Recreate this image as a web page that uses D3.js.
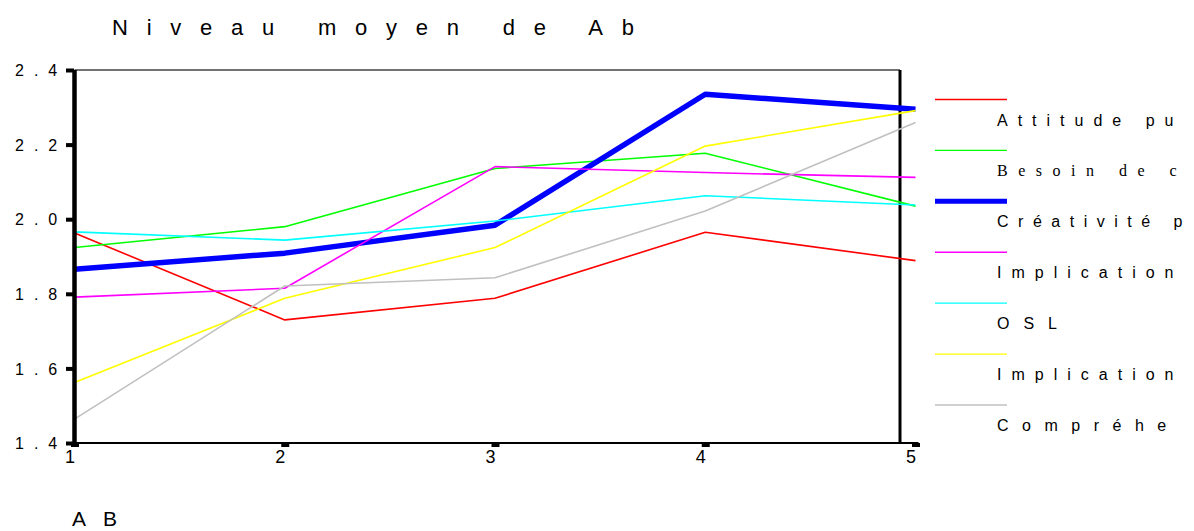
<!DOCTYPE html>
<html><head><meta charset="utf-8">
<script src="https://cdn.jsdelivr.net/npm/d3@7"></script>
<style>body{margin:0;background:#fff;} svg{display:block;}</style>
</head><body><svg id="c" width="1194" height="531"></svg>
<script>
const categories = [1, 2, 3, 4, 5];
const yTicks = [1.4, 1.6, 1.8, 2.0, 2.2, 2.4];
const seriesNames = ["Attitude pu", "Besoin de c", "Créativité p", "Implication", "OSL", "Implication", "Compréhe"];
const seriesColors = ["#ff0000", "#00ff00", "#0000ff", "#ff00ff", "#00ffff", "#ffff00", "#c0c0c0"];
const attitude      = [1.963, 1.730, 1.788, 1.965, 1.889];
const besoin        = [1.924, 1.980, 2.136, 2.177, 2.035];
const creativite    = [1.866, 1.909, 1.984, 2.335, 2.295];
const implication1  = [1.791, 1.815, 2.141, 2.125, 2.112];
const osl           = [1.966, 1.944, 1.995, 2.063, 2.038];
const implication2  = [1.562, 1.788, 1.924, 2.196, 2.291];
const comprehension = [1.464, 1.821, 1.843, 2.022, 2.259];
const seriesValues = [attitude, besoin, creativite, implication1, osl, implication2, comprehension];
const title = "Niveau moyen de Ab";
const xTitle = "AB";

const svg = d3.select("#c");
const x = d3.scaleLinear().domain([1, 5]).range([74.5, 915.5]);
const y = d3.scaleLinear().domain([1.4, 2.4]).range([443, 70]);

// title
svg.append("text").attr("x", 112).attr("y", 35)
  .attr("textLength", 522).attr("lengthAdjust", "spacing")
  .style("font-family", "'Liberation Sans', Arial, sans-serif").style("font-size", "22px")
  .text(title);

// frame: top and right
svg.append("line").attr("x1", x(1)).attr("x2", 900).attr("y1", y(2.4)).attr("y2", y(2.4))
  .attr("stroke", "#444").attr("stroke-width", 1.5);
svg.append("line").attr("x1", 900).attr("x2", 900).attr("y1", y(2.4)).attr("y2", y(1.4))
  .attr("stroke", "#000").attr("stroke-width", 3);

// lines
const line = d3.line().x((d, i) => x(categories[i])).y(d => y(d));
seriesValues.forEach((vals, i) => {
  svg.append("path").datum(vals).attr("d", line)
    .attr("fill", "none").attr("stroke", seriesColors[i])
    .attr("stroke-width", i === 2 ? 5.5 : 1.6)
    .attr("stroke-linejoin", "round");
});

// y axis
const yAxis = svg.append("g").attr("transform", `translate(${x(1)},0)`)
  .call(d3.axisLeft(y).tickValues(yTicks).tickFormat(d3.format(".1f")).tickSize(0));
yAxis.select(".domain").remove();
yAxis.append("line").attr("x1", 0).attr("x2", 0).attr("y1", y(2.4)).attr("y2", y(1.4) + 4)
  .attr("stroke", "#000").attr("stroke-width", 4.5);
yAxis.selectAll(".tick").append("rect").attr("x", -8.5).attr("y", -2).attr("width", 8).attr("height", 4).attr("fill", "#000");
yAxis.selectAll(".tick text").attr("x", 15 - x(1)).attr("dy", "0.36em")
  .attr("text-anchor", "start").attr("fill", "#000")
  .style("font-family", "'Liberation Sans', Arial, sans-serif").style("font-size", "16px")
  .style("letter-spacing", "10px");

// x axis
const xAxis = svg.append("g").attr("transform", `translate(0,${y(1.4)})`)
  .call(d3.axisBottom(x).tickValues(categories).tickFormat(d3.format("d")).tickSize(0));
xAxis.select(".domain").remove();
xAxis.append("line").attr("x1", x(1) - 2).attr("x2", x(5) + 3).attr("y1", 0).attr("y2", 0)
  .attr("stroke", "#000").attr("stroke-width", 2);
xAxis.selectAll(".tick").append("rect").attr("x", -4).attr("y", 0).attr("width", 8).attr("height", 4).attr("fill", "#000");
xAxis.selectAll(".tick text").attr("x", -5).attr("y", 20).attr("dy", 0).attr("fill", "#000")
  .style("font-family", "'Liberation Sans Narrow', 'Arial Narrow', sans-serif").style("font-size", "18px");

// x title
svg.append("text").attr("x", 72).attr("y", 526)
  .style("font-family", "'Liberation Sans Narrow', 'Arial Narrow', sans-serif").style("font-size", "21px")
  .style("letter-spacing", "17px").text(xTitle);

// legend
const legendSpacing = [10, 10.5, 9.5, 10, 14, 10, 13.5];
const legend = svg.append("g");
const legendY = d3.scaleLinear().domain([0, 6]).range([99.5, 405]);
seriesNames.forEach((name, i) => {
  const ly = legendY(i);
  legend.append("line").attr("x1", 935).attr("x2", 1007).attr("y1", ly).attr("y2", ly)
    .attr("stroke", seriesColors[i]).attr("stroke-width", i === 2 ? 5 : 1.3);
  const serif = i === 1;
  legend.append("text").attr("x", 997).attr("y", ly + 26)
    .style("font-family", serif ? "'Liberation Serif', 'Times New Roman', serif" : "'Liberation Sans', Arial, sans-serif")
    .style("font-size", "16px")
    .style("letter-spacing", legendSpacing[i] + "px")
    .text(name);
});
</script></body></html>
